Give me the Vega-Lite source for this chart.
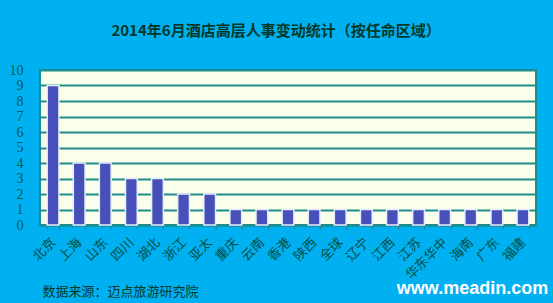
{
  "$schema": "https://vega.github.io/schema/vega-lite/v6.json",
  "width": 496,
  "height": 155,
  "autosize": {"type": "none"},
  "padding": {"left": 40, "top": 70, "right": 17, "bottom": 78},
  "background": "#00B0F0",
  "title": {
    "text": "2014年6月酒店高层人事变动统计（按任命区域）",
    "font": "Noto Sans CJK SC",
    "fontSize": 15,
    "fontWeight": "bold",
    "color": "#00382A",
    "anchor": "middle",
    "dx": -12,
    "baseline": "middle",
    "offset": 17
  },
  "config": {
    "view": {"fill": "#FAFFEC", "stroke": "#1F8C8C", "strokeWidth": 2}
  },
  "data": {
    "values": [
      {"region": "北京", "count": 9},
      {"region": "上海", "count": 4},
      {"region": "山东", "count": 4},
      {"region": "四川", "count": 3},
      {"region": "湖北", "count": 3},
      {"region": "浙江", "count": 2},
      {"region": "亚太", "count": 2},
      {"region": "重庆", "count": 1},
      {"region": "云南", "count": 1},
      {"region": "香港", "count": 1},
      {"region": "陕西", "count": 1},
      {"region": "全球", "count": 1},
      {"region": "辽宁", "count": 1},
      {"region": "江西", "count": 1},
      {"region": "江苏", "count": 1},
      {"region": "华东华中", "count": 1},
      {"region": "海南", "count": 1},
      {"region": "广东", "count": 1},
      {"region": "福建", "count": 1}
    ]
  },
  "mark": {"type": "bar", "fill": "#4650B8", "stroke": "#E8ECFF", "strokeWidth": 1.5},
  "encoding": {
    "x": {
      "field": "region",
      "type": "nominal",
      "sort": null,
      "scale": {"paddingInner": 0.55, "paddingOuter": 0.275},
      "axis": {
        "title": "www.meadin.com",
        "titleX": 432,
        "titleY": 63,
        "titleAlign": "center",
        "titleBaseline": "middle",
        "titleFont": "Liberation Sans",
        "titleFontSize": 18,
        "titleFontWeight": "bold",
        "titleColor": "#FFFFFF",
        "labelAngle": -45,
        "labelAlign": "right",
        "labelBaseline": "middle",
        "labelFont": "'Liberation Serif', 'Noto Sans CJK SC'",
        "labelFontSize": 13,
        "labelColor": "#004F45",
        "labelPadding": 11,
        "tickBand": "extent",
        "tickColor": "#1F8C8C",
        "tickSize": 4,
        "tickWidth": 1.5,
        "domainColor": "#1F8C8C",
        "domainWidth": 2,
        "grid": false
      }
    },
    "y": {
      "field": "count",
      "type": "quantitative",
      "scale": {"domain": [0, 10], "nice": false},
      "axis": {
        "title": "数据来源：迈点旅游研究院",
        "titleAngle": 0,
        "titleX": 2,
        "titleY": 221,
        "titleAlign": "left",
        "titleBaseline": "middle",
        "titleFont": "Noto Sans CJK SC",
        "titleFontSize": 13,
        "titleFontWeight": "normal",
        "titleColor": "#00382A",
        "values": [0, 1, 2, 3, 4, 5, 6, 7, 8, 9, 10],
        "ticks": false,
        "labelPadding": 17,
        "labelFont": "Liberation Serif",
        "labelFontSize": 14,
        "labelColor": "#005A50",
        "domain": false,
        "grid": true,
        "gridColor": "#1F8C8C",
        "gridWidth": 2,
        "gridOpacity": 1
      }
    }
  }
}
